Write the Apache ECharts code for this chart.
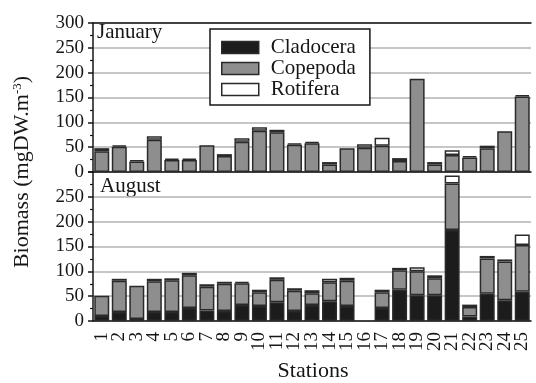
<!DOCTYPE html>
<html><head><meta charset="utf-8">
<script src="https://cdn.jsdelivr.net/npm/echarts@6/dist/echarts.min.js"></script>
<style>html,body{margin:0;padding:0;background:#fff}#c{width:536px;height:383px}</style>
</head><body><div id="c"></div>
<script>
const stations = ['1','2','3','4','5','6','7','8','9','10','11','12','13','14','15','16','17','18','19','20','21','22','23','24','25'];
const yTicks = [0,50,100,150,200,250,300];
const janCladocera = [0,0,0,0,0,0,0,0,0,0,0,0,0,0,0,0,0,0,0,0,0,0,0,0,0];
const janCopepoda  = [42,51,21,65,24,24,54,32,61,83,80,55,58,15,48,49,53,22,188,15,34,29,48,82,152];
const janRotifera  = [6,3,3,7,3,3,0,4,7,7,5,3,3,5,0,7,16,6,0,5,10,3,5,0,3];
const augCladocera = [10,18,4,18,18,26,21,20,32,30,38,20,32,40,30,0,26,63,52,52,183,9,55,42,59];
const augCopepoda  = [41,63,67,62,64,66,48,55,44,28,45,41,24,38,51,0,32,39,48,34,94,19,71,78,94];
const augRotifera  = [0,4,0,5,4,5,5,4,3,5,5,5,6,7,6,0,5,5,8,6,16,5,5,4,21];

const FONT = 'Liberation Serif';
const INK = '#161616';
const colors = {Cladocera:'#1c1c1c', Copepoda:'#8e8e8e', Rotifera:'#ffffff'};
const chart = echarts.init(document.getElementById('c'));

function mk(name, data, xi, yi, stack) {
  return {
    name, type:'bar', stack, xAxisIndex:xi, yAxisIndex:yi,
    data: data.map(v => v === 0 ? '-' : v),
    barWidth:15,
    itemStyle:{color:colors[name], borderColor:'#2a2a2a', borderWidth:1.5},
    emphasis:{disabled:true}
  };
}
const lineStyle = {color:INK, width:1.5};
function yAx(gi, hideMax) {
  return {
    gridIndex:gi, type:'value', min:yTicks[0], max:yTicks[yTicks.length-1], interval:50,
    axisLine:{show:true, lineStyle},
    axisTick:{show:true, length:5, lineStyle},
    minorTick:{show:true, splitNumber:2, length:3, lineStyle:{color:INK, width:1.2}},
    splitLine:{show:true, lineStyle:{color:'#b3b3b3', width:1.5}},
    axisLabel:{fontFamily:FONT, fontSize:19, color:INK, margin:9, showMaxLabel:!hideMax}
  };
}
chart.setOption({
  animation:false,
  backgroundColor:'#fff',
  grid:[
    {left:93, right:5, top:23, height:149},
    {left:93, right:5, top:172, height:149}
  ],
  xAxis:[
    {gridIndex:0, type:'category', data:stations, axisLine:{lineStyle}, axisTick:{alignWithLabel:true, length:6, lineStyle}, axisLabel:{show:false}},
    {gridIndex:0, type:'category', position:'top', data:stations, axisLine:{lineStyle}, axisTick:{show:false}, axisLabel:{show:false}},
    {gridIndex:1, type:'category', data:stations, axisLine:{lineStyle}, axisTick:{alignWithLabel:true, length:6, lineStyle},
      axisLabel:{rotate:90, fontFamily:FONT, fontSize:19, color:INK, margin:11, interval:0}}
  ],
  yAxis:[yAx(0,false), yAx(1,true)],
  legend:{
    orient:'vertical', left:210, top:29,
    data:['Cladocera','Copepoda','Rotifera'],
    icon:'rect',
    itemWidth:37, itemHeight:12, itemGap:0,
    padding:[8,14,5,11],
    borderColor:INK, borderWidth:1.5, backgroundColor:'#fff',
    textStyle:{fontFamily:FONT, fontSize:21, color:INK, padding:[0,0,0,7]},
    itemStyle:{borderColor:'#2a2a2a', borderWidth:1.5},
    selectedMode:false
  },
  graphic:[
    {type:'text', x:97, y:22, style:{text:'January', font:'21px "Liberation Serif"', fill:INK}},
    {type:'text', x:100, y:176, style:{text:'August', font:'21px "Liberation Serif"', fill:INK}},
    {type:'text', x:22, y:172, rotation:Math.PI/2,
      style:{text:'{a|Biomass (mgDW.m}{s|-3}{a|)}', align:'center', verticalAlign:'middle', fill:INK,
        rich:{a:{fontFamily:FONT, fontSize:22, fill:INK}, s:{fontFamily:FONT, fontSize:13, fill:INK, padding:[0,0,9,0]}}}},
    {type:'text', x:313, y:371, style:{text:'Stations', align:'center', verticalAlign:'middle', font:'22px "Liberation Serif"', fill:INK}}
  ],
  series:[
    mk('Cladocera', janCladocera, 0, 0, 'jan'),
    mk('Copepoda', janCopepoda, 0, 0, 'jan'),
    mk('Rotifera', janRotifera, 0, 0, 'jan'),
    mk('Cladocera', augCladocera, 2, 1, 'aug'),
    mk('Copepoda', augCopepoda, 2, 1, 'aug'),
    mk('Rotifera', augRotifera, 2, 1, 'aug')
  ]
});
</script></body></html>
